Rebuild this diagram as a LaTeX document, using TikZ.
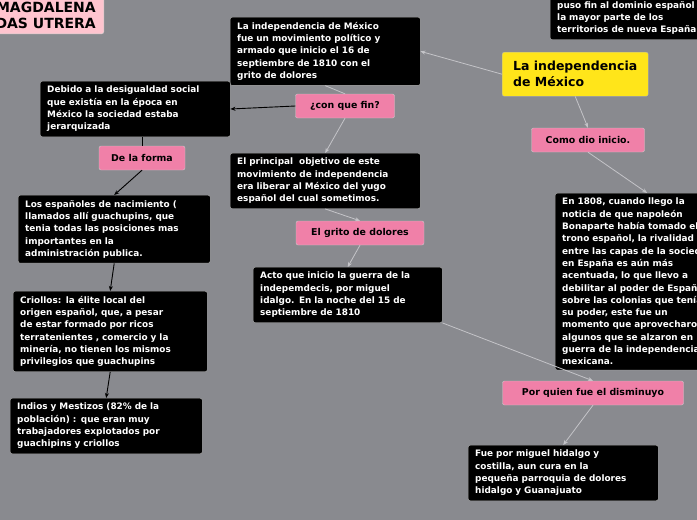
\documentclass[tikz,border=0pt]{standalone}
\usepackage{fontspec}
\setmainfont{DejaVu Sans}
\usetikzlibrary{arrows.meta}
\definecolor{bgray}{HTML}{898A8F}
\definecolor{tpink}{HTML}{F080A8}
\definecolor{lpink}{HTML}{FFC4CF}
\definecolor{tyellow}{HTML}{FFE51A}
\definecolor{lgray}{HTML}{C4C4C8}
\tikzset{
  note/.style={anchor=north west,fill=black,draw=gray!60,rounded corners=2pt,
    text=white,align=left,inner xsep=7pt,inner ysep=5pt,
    font=\fontsize{8.9}{12.3}\selectfont\bfseries},
  topic/.style={fill=tpink,draw=gray!40,rounded corners=2pt,text=black,
    minimum height=24pt,inner xsep=7pt,font=\fontsize{9.4}{11}\selectfont\bfseries},
  link/.style={draw=lgray,line width=0.8pt,-{Stealth[length=5pt,width=4pt]}},
  blink/.style={draw=black,line width=0.9pt,-{Stealth[length=5pt,width=4pt]}}
}
\begin{document}
\begin{tikzpicture}[x=1pt,y=-1pt]
\useasboundingbox (0,0) rectangle (697,520);
\fill[bgray] (0,0) rectangle (697,520);
% title
\node[anchor=south east,fill=lpink,draw=gray!40,rounded corners=2pt,align=right,
  minimum width=140pt,inner xsep=8pt,inner ysep=5pt,
  font=\fontsize{14}{16.5}\selectfont\bfseries] (title) at (104,34) {IA MAGDALENA\\ARADAS UTRERA};
% right column
\node[note,text width=200pt] (armas) at (550,-16) {resuelto con las armas, que\\puso fin al dominio español en\\la mayor parte de los\\territorios de nueva España};
\node[anchor=north west,fill=tyellow,draw=gray!60,rounded corners=2pt,align=left,
  minimum width=146pt,minimum height=44pt,inner xsep=7pt,
  font=\fontsize{12.5}{16}\selectfont\bfseries] (main) at (502,52) {La independencia\\de México};
\node[topic,minimum width=113pt] (inicio) at (588,140) {Como dio inicio.};
\node[note,text width=170pt] (n1808) at (555,193) {En 1808, cuando llego la\\noticia de que napoleón\\Bonaparte había tomado el\\trono español, la rivalidad\\entre las capas de la sociedad\\en España es aún más\\acentuada, lo que llevo a\\debilitar al poder de España\\sobre las colonias que tenía\\su poder, este fue un\\momento que aprovecharon\\algunos que se alzaron en\\guerra de la independencia\\mexicana.};
\node[topic,minimum width=181pt] (quien) at (593,393) {Por quien fue el disminuyo};
\node[note,text width=176pt] (hidalgo) at (468,445) {Fue por miguel hidalgo y\\costilla, aun cura en la\\pequeña parroquia de dolores\\hidalgo y Guanajuato};
% middle column
\node[note,text width=176pt] (mov) at (230,17) {La independencia de México\\fue un movimiento político y\\armado que inicio el 16 de\\septiembre de 1810 con el\\grito de dolores};
\node[topic,minimum width=99pt] (fin) at (345,106) {¿con que fin?};
\node[note,text width=176pt] (obj) at (230,153) {El principal\ \ objetivo de este\\movimiento de independencia\\era liberar al México del yugo\\español del cual sometimos.};
\node[topic,minimum width=128pt] (grito) at (360,233) {El grito de dolores};
\node[note,text width=175pt] (acto) at (253,267) {Acto que inicio la guerra de la\\indepemdecis, por miguel\\idalgo. En la noche del 15 de\\septiembre de 1810};
% left column
\node[note,text width=176pt] (debido) at (40,81) {Debido a la desigualdad social\\que existía en la época en\\México la sociedad estaba\\jerarquizada};
\node[topic,minimum width=86pt] (forma) at (142,158) {De la forma};
\node[note,text width=178pt] (esp) at (18,195) {Los españoles de nacimiento (\\llamados allí guachupins, que\\tenia todas las posiciones mas\\importantes en la\\administración publica.};
\node[note,text width=180pt] (crio) at (13,291) {Criollos: la élite local del\\origen español, que, a pesar\\de estar formado por ricos\\terratenientes , comercio y la\\minería, no tienen los mismos\\privilegios que guachupins};
\node[note,text width=178pt] (indios) at (10,398) {Indios y Mestizos (82\% de la\\población) : que eran muy\\trabajadores explotados por\\guachipins y criollos};
% connectors
\draw[link] (main.west) -- (mov.east);
\draw[link] (main.south) -- (inicio.north);
\draw[link] (inicio.south) -- (n1808.north);
\draw[draw=lgray,line width=0.8pt] (mov.south) -- (fin.north);
\draw[link] (fin.south) -- (obj.north);
\draw[link] (obj.south) -- (grito.north);
\draw[link] (grito.south) -- (acto.north);
\draw[link] (acto.south east) -- (quien.north);
\draw[link] (quien.south) -- (hidalgo.north);
\draw[blink] (fin.west) -- (debido.east);
\draw[draw=black,line width=0.9pt] (debido.south -| forma.north) -- (forma.north);
\draw[blink] (forma.south) -- (esp.north);
\draw[blink] (esp.south) -- (crio.north);
\draw[blink] (crio.south) -- (indios.north);
\end{tikzpicture}
\end{document}
